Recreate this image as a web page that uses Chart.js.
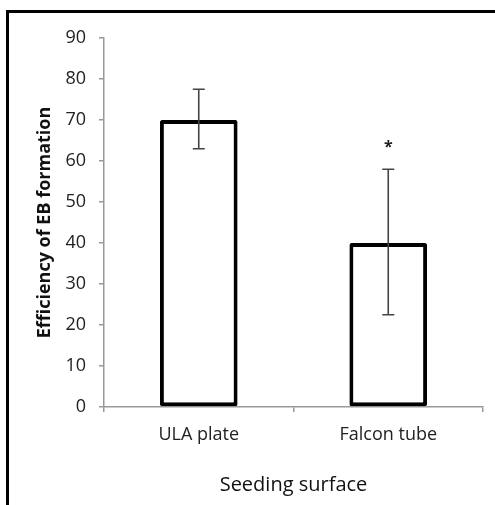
<!DOCTYPE html>
<html>
<head>
<meta charset="utf-8">
<script src="https://cdn.jsdelivr.net/npm/chart.js@4.4.1/dist/chart.umd.min.js"></script>
<style>
  html, body { margin: 0; padding: 0; background: #fff; }
  #wrap { position: relative; width: 495px; height: 505px; }
  #frame {
    position: absolute; left: 6px; top: 10px; width: 489px; height: 495px;
    border-top: 3px solid #000; border-left: 3px solid #000; box-sizing: border-box;
  }
  canvas { position: absolute; left: 0; top: 0; }
</style>
</head>
<body>
<div id="wrap">
  <div id="frame"></div>
  <canvas id="ebChart" width="495" height="505"></canvas>
</div>
<script>
// Data
const categories = ['ULA plate', 'Falcon tube'];
const efficiency = [70, 40];
const errorHigh = [77.5, 58];
const errorLow = [63, 22.5];
const significance = ['', '*'];
const yTicks = [0, 10, 20, 30, 40, 50, 60, 70, 80, 90];

// Error bars + significance markers
const errorBars = {
  id: 'errorBars',
  afterDatasetsDraw(chart) {
    const ctx = chart.ctx;
    const y = chart.scales.y;
    const meta = chart.getDatasetMeta(0);
    ctx.save();
    meta.data.forEach((bar, i) => {
      const top = y.getPixelForValue(errorHigh[i]);
      const bottom = y.getPixelForValue(errorLow[i]);
      ctx.strokeStyle = '#444';
      ctx.lineWidth = 1.6;
      ctx.beginPath();
      ctx.moveTo(bar.x, top);
      ctx.lineTo(bar.x, bottom);
      ctx.moveTo(bar.x - 6, top);
      ctx.lineTo(bar.x + 6, top);
      ctx.moveTo(bar.x - 6, bottom);
      ctx.lineTo(bar.x + 6, bottom);
      ctx.stroke();
      if (significance[i]) {
        ctx.fillStyle = '#222';
        ctx.font = 'bold 16px "Open Sans"';
        ctx.textAlign = 'center';
        ctx.textBaseline = 'middle';
        ctx.fillText(significance[i], bar.x, top - 22);
      }
    });
    ctx.restore();
  }
};

const ctx = document.getElementById('ebChart').getContext('2d');
const ebChart = new Chart(ctx, {
  type: 'bar',
  data: {
    labels: categories,
    datasets: [{
      data: efficiency,
      backgroundColor: '#fff',
      borderColor: '#000',
      borderWidth: 4,
      borderSkipped: false,
      borderRadius: 2,
      categoryPercentage: 1,
      barPercentage: 0.41
    }]
  },
  options: {
    responsive: false,
    animation: false,
    layout: { padding: { left: 0, top: 38, right: 12, bottom: 0 } },
    plugins: { legend: { display: false }, tooltip: { enabled: false } },
    scales: {
      x: {
        offset: true,
        grid: { offset: true, drawOnChartArea: false, drawTicks: true, tickLength: 5, color: '#999', lineWidth: 1.5 },
        border: { display: true, color: '#999', width: 1.5 },
        ticks: { color: '#222', font: { family: 'Open Sans', size: 18 }, padding: 12 },
        title: {
          display: true, text: 'Seeding surface', color: '#111',
          font: { family: 'Open Sans', size: 20 }, padding: { top: 0, bottom: 8 }
        },
        afterFit(scale) { scale.height = 98; }
      },
      y: {
        min: 0, max: 90,
        afterBuildTicks(scale) { scale.ticks = yTicks.map(v => ({ value: v })); },
        grid: { drawOnChartArea: false, drawTicks: true, tickLength: 5, color: '#999', lineWidth: 1.5 },
        border: { display: true, color: '#999', width: 1.5 },
        ticks: { color: '#222', font: { family: 'Open Sans', size: 18 }, padding: 13 },
        title: {
          display: true, text: 'Efficiency of EB formation', color: '#111',
          font: { family: 'Open Sans', size: 18, weight: 'bold' }, padding: { top: 34, bottom: 0 }
        },
        afterFit(scale) { scale.width = 104; }
      }
    }
  },
  plugins: [errorBars]
});
</script>
</body>
</html>
